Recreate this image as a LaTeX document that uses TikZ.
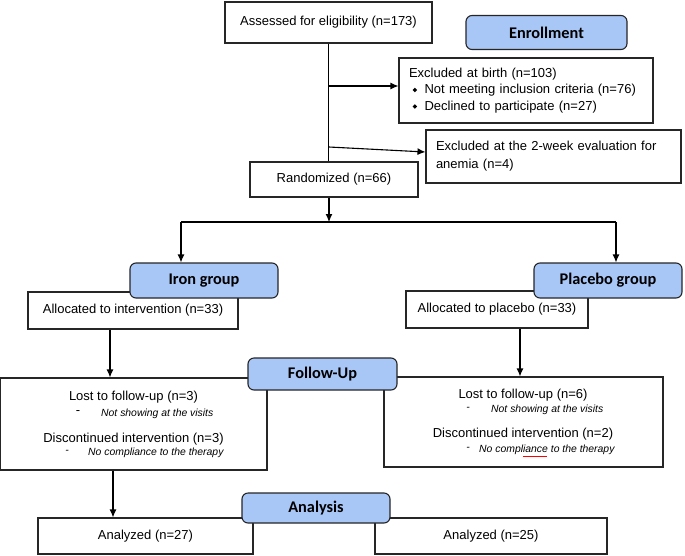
\documentclass[tikz,border=0pt]{standalone}
\usepackage{fontspec}
\setmainfont{Liberation Sans}
\newfontfamily\calib{Carlito}
\usepackage{graphicx}
\usetikzlibrary{arrows.meta}
\definecolor{hdrblue}{RGB}{168,198,246}
\newcommand{\dbul}{\raisebox{1.6pt}{\rotatebox{45}{\rule{3.2pt}{3.2pt}}}}
\tikzset{
 box/.style={draw=black!85, line width=1.1pt, fill=white, inner sep=0pt, font=\fontsize{13}{16.5}\selectfont},
 dims/.style 2 args={minimum width=#1pt, minimum height=#2pt},
 hdr/.style={draw=black!85, line width=1.1pt, fill=hdrblue, rounded corners=6pt, inner sep=0pt, font=\calib\bfseries\fontsize{16.3}{19}\selectfont},
 lbl/.style={inner sep=0pt, font=\fontsize{13}{16}\selectfont},
 sub/.style={inner sep=0pt, font=\itshape\fontsize{10.4}{12}\selectfont},
 arr/.style={line width=1.1pt, -{Latex[length=8pt,width=7pt]}},
 ln/.style={line width=1.1pt},
}
\begin{document}
\begin{tikzpicture}[x=1pt,y=-1pt]
\useasboundingbox (0,0) rectangle (685,555);
% boxes
\node[box, dims={207}{41}] (assessed) at (328.5,22.5) {Assessed for eligibility (n=173)};
\node[box, dims={254}{65}, text width=234pt, align=left] (excl1) at (526,90.5)
 {Excluded at birth (n=103)\\\hspace*{3.5pt}\dbul\hspace*{7.5pt}Not meeting inclusion criteria (n=76)\\\hspace*{3.5pt}\dbul\hspace*{7.5pt}Declined to participate (n=27)};
\node[box, dims={255}{53}, text width=235pt, align=left, font=\fontsize{13}{18}\selectfont] (excl2) at (553.5,156.5)
 {Excluded at the 2-week evaluation for\\anemia (n=4)};
\node[box, dims={168}{35}] (rand) at (334,179.5) {Randomized (n=66)};
\node[box, dims={210}{37}] (allocI) at (133,310.5) {Allocated to intervention (n=33)};
\node[box, dims={182}{37}] (allocP) at (497,309.5) {Allocated to placebo (n=33)};
\node[box, dims={266.4}{92}] (fuL) at (133.8,424) {};
\node[box, dims={279}{90}] (fuR) at (523.5,422) {};
\node[box, dims={215}{36}] (anL) at (145.5,536) {Analyzed (n=27)};
\node[box, dims={232}{36}] (anR) at (491,536) {Analyzed (n=25)};
% follow-up texts
\node[lbl] (lostL) at (133.5,397) {Lost to follow-up (n=3)};
\node[lbl] (dL1) at (78,413) {-};
\node[sub, anchor=west] (nsL) at (101,414) {Not showing at the visits};
\node[lbl] (discL) at (133.5,439) {Discontinued intervention (n=3)};
\node[sub] (dL2) at (67,452) {-};
\node[sub, anchor=west] (ncL) at (88,453) {No compliance to the therapy};
\node[lbl] (lostR) at (523,395) {Lost to follow-up (n=6)};
\node[sub] (dR1) at (468,409) {-};
\node[sub, anchor=west] (nsR) at (491,410) {Not showing at the visits};
\node[lbl] (discR) at (523,434) {Discontinued intervention (n=2)};
\node[sub] (dR2) at (468,449) {-};
\node[sub, anchor=west] (ncR) at (479,450) {No compliance to the therapy};
\draw[red, line width=0.8pt] (523,456.5) -- (547,456.5);
% headers
\node[hdr, dims={161}{34}] (enr) at (546.5,32.5) {Enrollment};
\node[hdr, dims={148}{35}] (iron) at (204,280.5) {Iron group};
\node[hdr, dims={148}{35}] (plac) at (608,280.5) {Placebo group};
\node[hdr, dims={149}{32}] (fu) at (322.5,374) {Follow-Up};
\node[hdr, dims={148}{30}] (ana) at (316,508) {Analysis};
% connectors
\coordinate (e2start) at (329,147);
\draw[ln] (assessed.south) -- (rand.north -| assessed.south);
\draw[arr] ([yshift=4.5pt]excl1.west -| assessed.south) -- ([yshift=4.5pt]excl1.west);
\draw[arr] (e2start) -- ([yshift=4.5pt]excl2.west);
\coordinate (split) at (329,222);
\coordinate (bl) at (181,222);
\coordinate (br) at (616,222);
\draw[arr] (rand.south -| split) -- (split);
\draw[ln] (bl) -- (br);
\draw[arr] (bl) -- (bl |- iron.north);
\draw[arr] (br) -- (br |- plac.north);
\draw[arr] ([xshift=-23pt]allocI.south) -- ([xshift=-23pt]allocI.south |- fuL.north);
\draw[arr] ([xshift=23pt]allocP.south) -- ([xshift=23pt]allocP.south |- fuR.north);
\draw[arr] ([xshift=-20.8pt]fuL.south) -- ([xshift=-20.8pt]fuL.south |- anL.north);
\end{tikzpicture}
\end{document}
